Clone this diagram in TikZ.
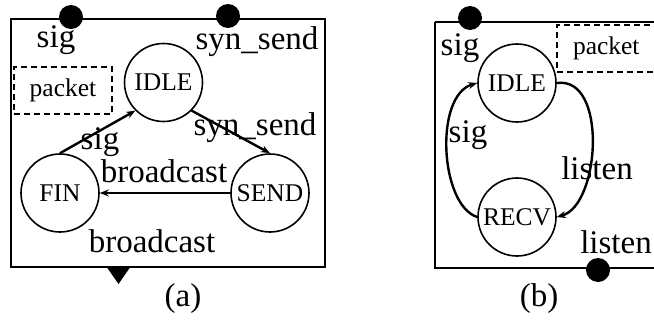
\documentclass[tikz,border=0pt]{standalone}
\usepackage{fontspec}
\setmainfont{Liberation Serif}
\usetikzlibrary{arrows.meta}

\tikzset{
  state/.style={draw, circle, line width=1.6pt, minimum size=78pt, inner sep=0pt,
                font=\fontsize{25.5}{25.5}\selectfont},
  lbl/.style={anchor=base, inner sep=0pt, font=\fontsize{33}{33}\selectfont},
  port/.style={circle, fill=black, minimum size=24pt, inner sep=0pt},
  buffer/.style={draw, dashed, dash pattern=on 6pt off 4pt, line width=2.2pt,
                 inner sep=0pt, font=\fontsize{25.5}{25.5}\selectfont},
  frame/.style={line width=2pt},
  trans/.style={line width=2.4pt, -{Stealth[length=9pt,width=7pt]}}
}

\begin{document}
\begin{tikzpicture}[x=1pt, y=-1pt]
  \clip (0,0) rectangle (654,322);
  \useasboundingbox (0,0) rectangle (654,322);

  % ---------- component (a) ----------
  \draw[frame] (11,19) rectangle (325,267);
  \node[port] (sigA) at (71,17) {};
  \node[port] (synA) at (228,16) {};
  \node[lbl] (sigAl) at (56,47) {sig};
  \node[lbl] (synAl) at (257,49) {syn\_send};

  \node[buffer, minimum width=98pt, minimum height=47pt] (pktA) at (63,90.5) {packet};

  \node[state] (idleA) at (163.5,82.5) {IDLE};
  \node[state] (finA) at (60,193) {FIN};
  \node[state] (sendA) at (270,193) {SEND};

  \draw[trans] (finA.north) -- (idleA.225);
  \draw[trans] (idleA.315) -- (sendA.north);
  \draw[trans] (sendA.west) -- (finA.east);

  \node[lbl] (t1) at (100,149) {sig};
  \node[lbl] (t2) at (255,135) {syn\_send};
  \node[lbl] (t3) at (164,182) {broadcast};

  \node[lbl] (outA) at (152,252) {broadcast};
  \fill (106,266) -- (131,266) -- (118.5,284) -- cycle;
  \node[lbl] (capA) at (183,306) {(a)};

  % ---------- component (b) ----------
  \draw[frame] (435,22) -- (435,268) -- (660,268);
  \draw[frame] (435,22) -- (660,22);
  \node[port] (sigB) at (470,18) {};
  \node[port] (lisB) at (598,270) {};
  \node[lbl] (sigBl) at (460,55) {sig};
  \node[lbl] (lisBl) at (616,253) {listen};

  \node[buffer, minimum width=103pt, minimum height=47pt, text width=95pt, align=left]
    (pktB) at (608.5,48.5) {\hspace*{12pt}packet};

  \node[state] (idleB) at (517,83) {IDLE};
  \node[state] (recvB) at (517,217) {RECV};

  \draw[trans] (recvB.west) .. controls (440,205) and (434,96) .. (idleB.west);
  \draw[trans] (idleB.east) .. controls (608,76) and (600,205) .. (recvB.east);

  \node[lbl] (t4) at (468,142) {sig};
  \node[lbl] (t5) at (597,179) {listen};

  \node[lbl] (capB) at (539,306) {(b)};
\end{tikzpicture}
\end{document}
